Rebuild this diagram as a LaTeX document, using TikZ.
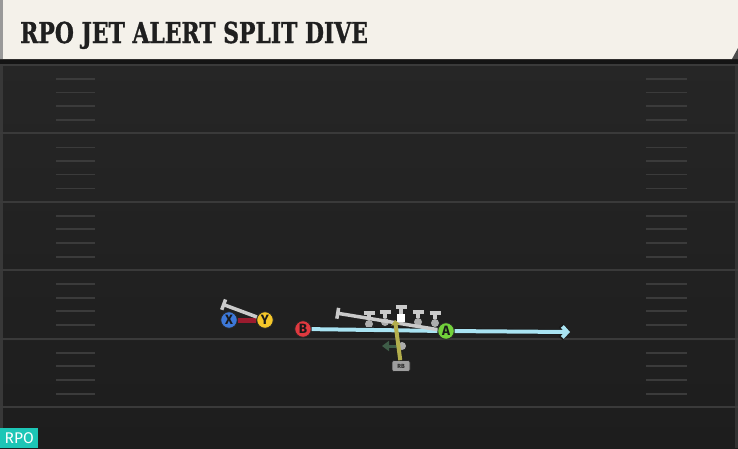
\documentclass[tikz,border=0pt]{standalone}
\usepackage{fontspec}
\usetikzlibrary{arrows.meta}
\newfontfamily\titlefont{DejaVu Serif}[BoldFeatures={FakeBold=1.2}]
\newfontfamily\padfont{Fira Sans}
\definecolor{banner}{HTML}{F4F1EA}
\definecolor{fieldtop}{HTML}{262626}
\definecolor{fieldbot}{HTML}{1D1D1D}
\definecolor{yardline}{HTML}{3A3A3A}
\definecolor{hashmark}{HTML}{3B3B3B}
\definecolor{xblue}{HTML}{3D78D8}
\definecolor{yyellow}{HTML}{F5C72A}
\definecolor{bred}{HTML}{E0393F}
\definecolor{agreen}{HTML}{72D13B}
\definecolor{blockgrey}{HTML}{CACACA}
\definecolor{routeblue}{HTML}{A9E3F2}
\definecolor{routeolive}{HTML}{B3AE4C}
\definecolor{routegreen}{HTML}{3E5C47}
\definecolor{routemaroon}{HTML}{9A1B2E}
\definecolor{rpoteal}{HTML}{1DC6B6}

\begin{document}
\begin{tikzpicture}[x=1pt,y=-1pt,
    pad/.style={circle,draw=black!85,line width=0.8pt,minimum size=16.5pt,inner sep=0pt,
        font=\padfont\bfseries\fontsize{13.5}{13.5}\selectfont,text=black!90},
    lineman/.style={circle,fill=black!32,minimum size=8pt,inner sep=0pt},
    blk/.style={draw=blockgrey,line width=3.5pt,-{Bar[width=11pt]}},
    route/.style={line width=4pt},
    yard/.style={draw=yardline,line width=2pt},
    hash/.style={draw=hashmark,line width=1.8pt}]
    \useasboundingbox (0,0) rectangle (738,448);
    \fill[top color=fieldtop,bottom color=fieldbot] (0,59) rectangle (738,448);
    \fill[black!92] (0,59) rectangle (738,65);
    \fill[black!78] (0,65) rectangle (3,448);
    \fill[black!80] (735,65) rectangle (738,448);
    \foreach \k in {0,...,5}
        \draw[yard] (0,{65+68.4*\k}) -- (738,{65+68.4*\k});
    \foreach \k in {0,...,4}
        \foreach \d in {14,27.5,41,55} {
            \draw[hash] (56,{65+68.4*\k+\d}) -- (95,{65+68.4*\k+\d});
            \draw[hash] (646,{65+68.4*\k+\d}) -- (687,{65+68.4*\k+\d});
        }
    \fill[banner] (0,0) -- (738,0) -- (738,48) -- (732,59) -- (0,59) -- cycle;
    \fill[black!70] (738,48) -- (738,59) -- (732,59) -- cycle;
    \fill[black!40] (0,0) rectangle (2.5,59);
    \node[anchor=base west,inner sep=0pt,text=black!88] (title) at (20,43)
        {\scalebox{0.76}[1]{\titlefont\bfseries\fontsize{28.8}{30}\selectfont RPO JET ALERT SPLIT DIVE}};

    \node[pad,fill=xblue] (X) at (229,320) {X};
    \node[pad,fill=yyellow] (Y) at (265,320) {Y};
    \node[pad,fill=bred] (B) at (303,329) {B};
    \node[lineman] (lt) at (369,324) {};
    \node[lineman] (lg) at (385,322) {};
    \node[lineman] (rg) at (418,322) {};
    \node[lineman] (rt) at (435,323) {};
    \node[pad,fill=agreen] (A) at (446,331) {A};
    \node[lineman] (mesh) at (402,346) {};
    \node[rectangle,rounded corners=2pt,fill=black!38,draw=black!85,line width=0.6pt,
        minimum width=18pt,minimum height=11pt,inner sep=0pt,
        font=\padfont\bfseries\fontsize{6}{6}\selectfont,text=black!85] (RB) at (401,366) {RB};

    \coordinate (y-blk) at (222,304);
    \coordinate (a-blk) at (336,313);
    \coordinate (lt-blk) at (369,311);
    \coordinate (lg-blk) at (385,310);
    \coordinate (c-blk) at (401,305);
    \coordinate (rg-blk) at (418,310);
    \coordinate (rt-blk) at (435,311);
    \coordinate (jet-end) at (570,332);
    \coordinate (dive-end) at (395,320);
    \coordinate (read-end) at (382,346);

    \draw[route,draw=routemaroon,line width=5pt] (X) -- (Y);
    \draw[blk] (Y) -- (y-blk);
    \draw[route,draw=black!90,line width=5.6pt,-{Straight Barb[length=5.5pt,width=13pt]}] (B) -- (A) -- (jet-end);
    \draw[route,draw=routeblue,-{Straight Barb[length=5pt,width=11pt]}] (B) -- (A) -- (jet-end);
    \draw[blk] (A) -- (a-blk);
    \node[rectangle,fill=white,minimum size=8pt,inner sep=0pt] (C) at (401,318) {};
    \draw[blk] (lt) -- (lt-blk);
    \draw[blk] (lg) -- (lg-blk);
    \draw[blk] (C) -- (c-blk);
    \draw[blk] (rg) -- (rg-blk);
    \draw[blk] (rt) -- (rt-blk);
    \draw[route,draw=routegreen,line width=3pt,-{Triangle[length=7pt,width=10pt]}] (mesh) -- (read-end);
    \draw[route,draw=routeolive,-{Triangle[length=5pt,width=9pt]}] (RB) -- (dive-end);

    \node[fill=rpoteal,text=white,anchor=south west,inner sep=0pt,minimum width=38pt,minimum height=20pt,
        font=\padfont\fontsize{15.5}{15.5}\selectfont] (rpo) at (0,448) {RPO};
\end{tikzpicture}
\end{document}
